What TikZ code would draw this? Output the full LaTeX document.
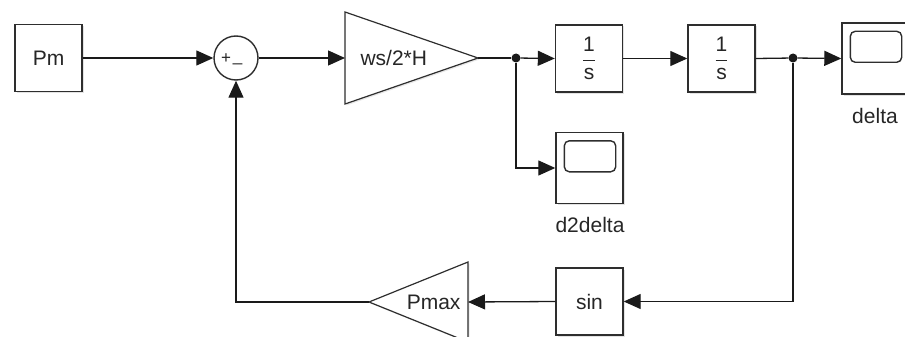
\documentclass[tikz,border=0pt]{standalone}
\usepackage{fontspec}
\setmainfont{Liberation Sans}
\usetikzlibrary{arrows.meta,positioning,shadows}
\definecolor{slInk}  {HTML}{262626}
\definecolor{slEdge} {HTML}{2E2E2E}
\definecolor{slWire} {HTML}{1A1A1A}

\begin{document}
\begin{tikzpicture}[x=1pt,y=-1pt,font=\fontsize{21}{24}\selectfont,text=slInk,
    blk/.style={draw=slEdge,line width=1.4pt,fill=white,minimum width=67pt,
                minimum height=67pt,inner sep=0pt,
                drop shadow={opacity=0.22,shadow xshift=1.5pt,shadow yshift=-1.5pt}},
    scopebox/.style={blk,minimum height=71pt},
    gainblk/.style={draw=slEdge,line width=1.2pt,fill=white,
                drop shadow={opacity=0.18,shadow xshift=1.5pt,shadow yshift=-1.5pt}},
    wire/.style={draw=slWire,line width=1.3pt},
    sig/.style={wire,-{Triangle[length=17pt,width=15pt]}},
    dot/.style={circle,fill=slWire,inner sep=0pt,minimum size=9pt}]
  \path[use as bounding box,clip] (0,0) rectangle (905,337);

  % forward path
  \node[blk] (pm) at (48.5,58) {Pm};
  \node[circle,draw=slEdge,line width=1.4pt,fill=white,minimum size=44pt,inner sep=0pt] (sum) at (236,58) {};
  \node[font=\fontsize{17}{17}\selectfont] at (226,59) {+};
  \node[font=\fontsize{17}{17}\selectfont] at (237.5,63) {\_};
  \coordinate (gainL) at (345,58);
  \coordinate (gainT) at (478,58);
  \draw[gainblk] (345,12) -- (gainT) -- (345,104) -- cycle;
  \node[anchor=west] (gain) at (357,58) {ws/2*H};
  \node[dot] (j1) at (516,58) {};
  \node[blk] (int1) at (589,58.5) {$\displaystyle\frac{\mbox{1}}{\mbox{s}}$};
  \node[blk] (int2) at (721.5,58.5) {$\displaystyle\frac{\mbox{1}}{\mbox{s}}$};
  \node[dot] (j2) at (793,58) {};
  \node[scopebox] (ds) at (875.5,58.5) {};
  \draw[rounded corners=5pt,line width=1.4pt,draw=slEdge] ([shift={(9,9)}]ds.north west) rectangle ([shift={(-8,40)}]ds.north east);
  \node (dslabel) at (875,116) {delta};

  % d2delta scope
  \node[scopebox] (d2s) at (589.5,168) {};
  \draw[rounded corners=5pt,line width=1.4pt,draw=slEdge] ([shift={(9,9)}]d2s.north west) rectangle ([shift={(-8,40)}]d2s.north east);
  \node (d2label) at (590,225) {d2delta};

  % feedback path
  \node[blk] (sinb) at (589.5,301.5) {sin};
  \coordinate (pmaxR) at (468,302);
  \coordinate (pmaxT) at (369,302);
  \draw[gainblk] (468,262) -- (pmaxT) -- (468,342) -- cycle;
  \node[anchor=east] (pmax) at (464,302) {Pmax};

  % wires
  \draw[sig] (pm.east) -- (sum.west);
  \draw[sig] (sum.east) -- (gainL);
  \draw[wire] (gainT) -- (j1);
  \draw[sig] (j1) -- (int1.west);
  \draw[sig] (int1.east) -- (int2.west);
  \draw[wire] (int2.east) -- (j2);
  \draw[sig] (j2) -- (ds.west);
  \draw[sig] (j1) |- (d2s.west);
  \draw[sig] (j2) |- (sinb.east);
  \draw[sig] (sinb.west) -- (pmaxR);
  \draw[sig] (pmaxT) -| (sum.south);
\end{tikzpicture}
\end{document}
